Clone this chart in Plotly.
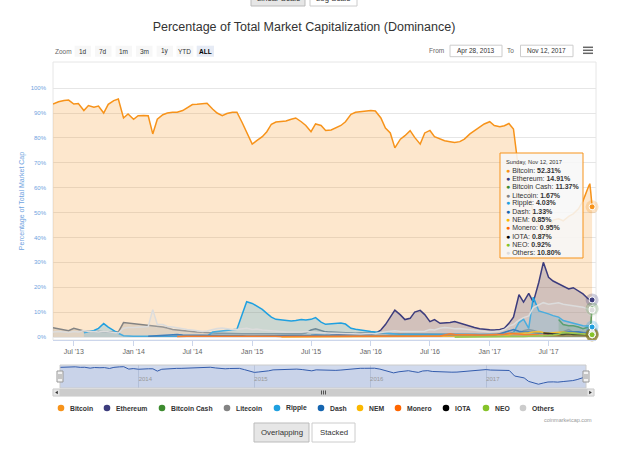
import datetime as dt
import plotly.graph_objects as go

N = None

# ---- x categories: semi-monthly sampling dates (Apr 28, 2013 .. Nov 12, 2017)
DATES = ["2013-04-28"]
for yr in range(2013, 2018):
    for mo in range(1, 13):
        for dy in (1, 15):
            s = f"{yr}-{mo:02d}-{dy:02d}"
            if "2013-05-15" <= s <= "2017-11-01":
                DATES.append(s)
DATES += ["2017-11-05", "2017-11-08", "2017-11-10", "2017-11-12"]

NAMES = ["Bitcoin", "Ethereum", "Bitcoin Cash", "Litecoin", "Ripple", "Dash",
         "NEM", "Monero", "IOTA", "NEO", "Others"]
COLORS = ["#f7931a", "#3c3c7d", "#3d8b2f", "#838383", "#1fa0e0", "#1565b0",
          "#fbb800", "#ff6600", "#000000", "#86c32a", "#dcdcdc"]

bitcoin = [
    93.6, 94.5, 95.0, 95.2, 93.6, 93.8, 91.0, 93.0, 92.3, 92.8, 90.0, 93.5, 95.0, 95.6, 88.0, 89.6,
    87.5, 88.9, 89.0, 88.9, 81.6, 87.5, 89.3, 90.0, 90.3, 90.3, 91.0, 92.0, 93.4, 93.5, 93.8, 93.9,
    91.6, 90.0, 88.9, 89.8, 90.3, 90.3, 86.2, 82.5,
    77.5, 78.9, 80.5, 82.5, 85.5, 86.4, 86.6, 86.8, 87.5, 88.0, 86.5, 85.0, 82.5, 85.6, 85.0, 83.0,
    83.2, 84.0, 85.0, 86.5, 89.5, 90.3, 90.5, 90.5,
    91.0, 90.8, 88.0, 84.0, 82.0, 76.0, 79.5, 80.9, 82.9, 80.2, 77.5, 82.0, 83.0, 80.5, 79.5, 78.9,
    78.5, 78.2, 78.5, 79.5, 81.6, 82.9, 84.5, 85.6,
    86.5, 85.0, 84.5, 84.9, 85.8, 83.6, 66.0, 63.0, 60.0, 49.0, 45.0, 40.0, 44.0, 47.0, 47.5, 46.7,
    48.5, 49.5, 51.5, 54.7, 60.5, 61.6, 58.0, 55.0, 52.31,
]
ethereum = [N] * 16 + [N] * 24 + [N] * 15 + [
    2.0, 1.3, 1.2, 1.0, 0.9, 1.0, 1.0, 1.0, 1.0,
    1.0, 1.5, 2.8, 5.0, 8.0, 10.8, 8.9, 7.0, 7.5, 10.0, 10.7, 9.0, 6.2, 7.0, 5.5, 5.5,
    5.8, 6.2, 5.5, 5.0, 4.1, 3.8, 3.3, 3.0,
    2.9, 2.8, 3.0, 3.5, 5.5, 8.0, 17.0, 14.0, 17.5, 14.0, 22.0, 30.0, 24.0, 22.5, 21.3, 20.5,
    19.3, 19.8, 18.5, 17.3, 15.2, 15.0, 14.6, 14.2, 14.91,
]
bitcoin_cash = [N] * (16 + 24 + 24 + 24 + 14) + [
    7.0, 5.0, 4.5, 4.5, 4.0, 3.3, 4.0, 4.5, 5.0, 9.0, 11.37,
]
litecoin = [
    3.7, 3.2, 2.8, 2.5, 3.5, 3.0, 2.4, 2.3, 2.2, 2.1, 2.1, 2.0, 1.8, 2.0, 5.8, 5.6,
    5.5, 5.3, 5.0, 4.8, 4.4, 4.2, 4.0, 3.6, 3.0, 2.8, 2.5, 2.4, 2.2, 2.0, 1.9, 1.7,
    1.6, 1.5, 1.5, 1.4, 1.4, 1.4, 1.3, 1.3,
    1.3, 1.2, 1.4, 1.4, 1.3, 1.3, 1.2, 1.2, 1.2, 1.2, 1.3, 1.6, 2.8, 3.3, 2.5, 2.0,
    2.0, 1.9, 1.8, 1.6, 1.4, 1.5, 1.6, 1.6,
    1.7, 1.7, 1.6, 1.5, 1.3, 1.2, 1.3, 1.3, 1.3, 1.4, 1.4, 1.3, 1.3, 1.3, 1.3, 1.2,
    1.2, 1.2, 1.1, 1.1, 1.1, 1.1, 1.0, 1.0,
    1.1, 1.2, 1.2, 1.2, 1.3, 1.5, 1.6, 2.5, 3.0, 2.6, 2.0, 1.5, 1.7, 1.6, 1.7, 2.1,
    3.0, 2.0, 1.8, 1.9, 1.8, 1.8, 1.8, 1.7, 1.67,
]
ripple = [N] * 6 + [
    1.7, 2.2, 2.6, 3.5, 5.4, 4.0, 2.5, 1.5, 0.5, 0.3,
    0.3, 0.3, 0.3, 0.3, 0.3, 0.3, 0.3, 0.3, 0.3, 0.3, 0.3, 0.3, 0.3, 0.3, 0.3, 0.3,
    2.0, 2.2, 2.5, 2.8, 3.0, 3.1, 9.0, 14.2,
    13.5, 12.5, 11.1, 9.5, 8.0, 7.1, 6.8, 6.5, 6.4, 6.6, 7.0, 6.8, 7.1, 7.8, 6.0, 5.1,
    5.3, 5.4, 5.6, 5.2, 3.5, 3.1, 2.7, 2.6,
    2.2, 2.0, 1.8, 1.4, 1.2, 1.0, 1.0, 1.1, 1.1, 1.0, 1.0, 0.9, 0.9, 0.9, 0.9, 0.8,
    0.8, 0.8, 0.8, 0.8, 0.8, 0.9, 0.9, 1.0,
    1.0, 1.0, 1.0, 1.0, 1.2, 1.8, 5.8, 7.2, 3.5, 16.0, 10.5, 10.0, 9.3, 8.6, 8.0, 6.6,
    6.0, 5.6, 5.0, 4.5, 4.4, 4.3, 4.2, 4.1, 4.03,
]
dash = [N] * 16 + [N] * 3 + [
    0.3, 0.4, 0.5, 0.6, 0.5, 0.9, 1.0, 0.8, 0.8, 0.7, 0.6, 0.5, 0.5, 0.5, 0.5, 0.5,
    0.6, 0.6, 0.6, 0.5, 0.4,
    0.4, 0.5, 0.6, 0.6, 0.6, 0.7, 0.7, 0.6, 0.6, 0.6, 0.6, 0.6, 0.7, 0.8, 0.7, 0.7,
    0.7, 0.6, 0.5, 0.4, 0.4, 0.4, 0.4, 0.4,
    0.6, 0.6, 0.6, 0.6, 0.6, 0.5, 0.5, 0.5, 0.5, 0.5, 0.5, 0.5, 0.5, 0.5, 0.5, 0.6,
    0.7, 0.7, 0.7, 0.7, 0.7, 0.8, 0.7, 0.6,
    0.6, 0.6, 1.3, 1.9, 2.5, 3.0, 2.3, 2.0, 2.0, 1.7, 1.5, 1.5, 1.5, 1.5, 1.5, 2.0,
    2.1, 2.2, 2.1, 1.7, 1.6, 1.5, 1.5, 1.4, 1.33,
]
nem = [N] * (16 + 24 + 6) + [
    0.1, 0.1, 0.1, 0.1, 0.1, 0.1, 0.1, 0.1, 0.1, 0.1, 0.1, 0.1, 0.1, 0.1, 0.1, 0.1, 0.1, 0.1,
    0.1, 0.1, 0.1, 0.1, 0.1, 0.1, 0.1, 0.1, 0.1, 0.2, 0.3, 0.3, 0.3, 0.3, 0.2, 0.2,
    0.2, 0.2, 0.2, 0.2, 0.2, 0.2, 0.2, 0.2,
    0.2, 0.2, 0.3, 0.4, 0.8, 1.5, 1.4, 1.4, 1.7, 2.0, 2.2, 1.8, 1.5, 1.7, 1.8, 2.0,
    1.7, 1.6, 1.4, 1.2, 1.0, 0.9, 0.9, 0.85, 0.85,
]
monero = [N] * (16 + 9) + [
    0.2, 0.4, 0.3, 0.3, 0.3, 0.3, 0.4, 0.6, 0.5, 0.4, 0.4, 0.4, 0.4, 0.3, 0.3,
    0.3, 0.3, 0.3, 0.3, 0.3, 0.3, 0.2, 0.2, 0.2, 0.2, 0.2, 0.2, 0.2, 0.2, 0.2, 0.2,
    0.2, 0.2, 0.2, 0.1, 0.1, 0.1, 0.1, 0.1,
    0.1, 0.1, 0.1, 0.2, 0.3, 0.2, 0.2, 0.2, 0.2, 0.2, 0.3, 0.3, 0.3, 0.3, 0.4, 0.8,
    1.3, 1.0, 0.9, 0.8, 0.8, 0.8, 0.8, 0.8,
    0.9, 1.0, 1.1, 1.1, 1.5, 1.5, 1.2, 1.0, 0.8, 0.9, 0.8, 0.7, 0.7, 0.7, 0.7, 1.0,
    1.0, 0.9, 0.9, 0.9, 0.9, 0.9, 0.9, 0.9, 0.95,
]
iota = [N] * (16 + 24 + 24 + 24 + 11) + [
    1.6, 1.3, 1.1, 1.0, 1.0, 1.3, 1.0, 0.9, 0.9, 0.9, 0.9, 0.9, 0.85, 0.87,
]
neo = [N] * (16 + 24 + 24 + 17) + [
    0.05, 0.04, 0.04, 0.03, 0.03, 0.03, 0.03,
    0.03, 0.03, 0.03, 0.05, 0.1, 0.1, 0.1, 0.2, 0.3, 0.3, 0.6, 0.4, 0.6, 0.8, 1.1, 1.8,
    1.6, 1.5, 1.3, 1.1, 1.0, 1.0, 0.9, 0.9, 0.92,
]
others = [
    2.0, 2.2, 2.0, 1.8, 2.2, 2.0, 2.6, 2.2, 2.2, 2.0, 2.3, 2.0, 1.8, 1.6, 3.5, 3.8,
    3.8, 4.0, 4.0, 4.2, 11.0, 5.0, 5.0, 4.2, 4.0, 3.6, 3.4, 3.0, 2.8, 2.4, 2.2, 2.4,
    3.0, 3.4, 3.6, 3.2, 3.0, 3.0, 3.2, 3.5,
    3.0, 3.2, 2.8, 2.6, 2.4, 2.3, 2.2, 2.0, 2.0, 1.9, 2.0, 2.2, 2.0, 1.8, 1.6, 1.5,
    1.5, 1.5, 1.4, 1.3, 1.2, 1.2, 1.2, 1.3,
    1.3, 1.4, 1.8, 2.0, 2.2, 2.5, 2.2, 2.2, 2.0, 2.2, 2.0, 2.3, 3.0, 2.8, 3.5, 3.8,
    3.6, 3.3, 3.4, 3.2, 3.0, 2.6, 2.3, 2.2,
    2.0, 2.2, 2.4, 3.0, 4.4, 5.0, 6.8, 7.8, 8.5, 11.8, 13.0, 13.8, 13.2, 13.5, 13.8, 13.2,
    12.9, 12.7, 12.5, 12.0, 11.1, 11.0, 10.8, 10.5, 10.80,
]

SERIES = [bitcoin, ethereum, bitcoin_cash, litecoin, ripple, dash, nem, monero, iota, neo, others]
for s in SERIES:
    assert len(s) == len(DATES), (len(s), len(DATES))

Y_TICKS = list(range(0, 101, 10))
Y_TICKTEXT = [f"{v}%" for v in Y_TICKS]

# ---------------------------------------------------------------- helpers
W, H = 640, 450
FONT = "Liberation Sans, Arial, sans-serif"
BLUE = "#6fa3e0"


def px(x):
    return x / W


def py(y):
    return 1 - y / H


def rgba(hexc, a):
    h = hexc.lstrip("#")
    r, g, b = int(h[0:2], 16), int(h[2:4], 16), int(h[4:6], 16)
    return f"rgba({r},{g},{b},{a})"


shapes = []
annots = []


def rect(x0, y0, x1, y1, fill, line="rgba(0,0,0,0)", lw=1, layer="above"):
    shapes.append(dict(type="rect", xref="paper", yref="paper", x0=px(x0), x1=px(x1),
                       y0=py(y1), y1=py(y0), fillcolor=fill,
                       line=dict(color=line, width=lw), layer=layer))


def hline(x0, x1, y, color, lw=1):
    shapes.append(dict(type="line", xref="paper", yref="paper", x0=px(x0), x1=px(x1),
                       y0=py(y), y1=py(y), line=dict(color=color, width=lw)))


def vline(x, y0, y1, color, lw=1):
    shapes.append(dict(type="line", xref="paper", yref="paper", x0=px(x), x1=px(x),
                       y0=py(y0), y1=py(y1), line=dict(color=color, width=lw)))


def text(x, y, t, size=7, color="#333333", xanchor="center", bold=False):
    if bold:
        t = f"<b>{t}</b>"
    annots.append(dict(xref="paper", yref="paper", x=px(x), y=py(y), text=t,
                       showarrow=False, xanchor=xanchor, yanchor="middle",
                       font=dict(family=FONT, size=size, color=color)))


# ---------------------------------------------------------------- traces
fig = go.Figure()
for name, col, vals in zip(NAMES, COLORS, SERIES):
    fig.add_trace(go.Scatter(
        x=DATES, y=vals, name=name, mode="lines",
        line=dict(color=col, width=1.5), fill="tozeroy", fillcolor=rgba(col, 0.22),
        hoverinfo="skip", showlegend=False))

# hover markers (halo + dot) on the last points
for name, col, vals in zip(NAMES, COLORS, SERIES):
    fig.add_trace(go.Scatter(
        x=[DATES[-1]], y=[vals[-1]], mode="markers", cliponaxis=False,
        marker=dict(size=13, color=rgba(col, 0.25), line=dict(width=0)),
        hoverinfo="skip", showlegend=False))
for name, col, vals in zip(NAMES, COLORS, SERIES):
    fig.add_trace(go.Scatter(
        x=[DATES[-1]], y=[vals[-1]], mode="markers", cliponaxis=False,
        marker=dict(size=6, color=col, line=dict(color="white", width=1)),
        hoverinfo="skip", showlegend=False))

# navigator series
fig.add_trace(go.Scatter(
    x=DATES, y=bitcoin, xaxis="x2", yaxis="y2", mode="lines",
    line=dict(color="#335cad", width=1), fill="tozeroy",
    fillcolor="rgba(51,92,173,0.05)", hoverinfo="skip", showlegend=False))

# ---------------------------------------------------------------- decorations
# plot border
rect(53, 62, 596, 340, "rgba(0,0,0,0)", line="#e6e6e6", lw=1, layer="below")

# navigator mask (full range selected) and outline
rect(60, 365, 586, 388, "rgba(102,133,194,0.3)", layer="below")
rect(60, 365, 586, 388, "rgba(0,0,0,0)", line="#cccccc", lw=1)
# navigator handles
for hx in (60, 586):
    rect(hx - 3, 371, hx + 3, 382, "#f2f2f2", line="#999999", lw=1)
    vline(hx - 1, 374, 379, "#999999", 1)
    vline(hx + 1, 374, 379, "#999999", 1)

# scrollbar
rect(53, 389, 594, 396, "#f2f2f2", line="#f2f2f2")
rect(60, 389, 587, 396, "#cccccc", line="#cccccc")
rect(53, 389, 60, 396, "#e6e6e6", line="#cccccc")
rect(587, 389, 594, 396, "#e6e6e6", line="#cccccc")
shapes.append(dict(type="path", xref="paper", yref="paper",
                   path=f"M{px(57.8)},{py(390.8)} L{px(55.2)},{py(392.5)} L{px(57.8)},{py(394.2)} Z",
                   fillcolor="#333333", line=dict(width=0)))
shapes.append(dict(type="path", xref="paper", yref="paper",
                   path=f"M{px(589.2)},{py(390.8)} L{px(591.8)},{py(392.5)} L{px(589.2)},{py(394.2)} Z",
                   fillcolor="#333333", line=dict(width=0)))
for gx in (321.5, 323.5, 325.5):
    vline(gx, 390.5, 394.5, "#333333", 0.8)

# range selector
text(53, 51.2, "Zoom", size=6.5, color="#666666", xanchor="left")
BTN = [("1d", 74.6, 91), ("7d", 95, 111.5), ("1m", 115.6, 132), ("3m", 136, 152.5),
       ("1y", 156.6, 173), ("YTD", 176.5, 193.4), ("ALL", 196.7, 214)]
for lab, x0, x1 in BTN:
    sel = lab == "ALL"
    rect(x0, 45.7, x1, 56.7, "#e6ebf5" if sel else "#f7f7f7")
    text((x0 + x1) / 2, 51.2, lab, size=6.5, color="#000000" if sel else "#333333", bold=sel)

d0 = dt.datetime.strptime(DATES[0], "%Y-%m-%d")
d1 = dt.datetime.strptime(DATES[-1], "%Y-%m-%d")
text(446, 51, "From", size=6.5, color="#666666", xanchor="right")
rect(450, 45.2, 502, 56.7, "#ffffff", line="#cccccc")
text(476, 51, d0.strftime("%b %d, %Y"), size=6.5)
text(516, 51, "To", size=6.5, color="#666666", xanchor="right")
rect(520.5, 45.2, 573, 56.7, "#ffffff", line="#cccccc")
text(546.7, 51, d1.strftime("%b %d, %Y"), size=6.5)
for hy in (47.3, 50.3, 53.3):
    hline(583, 593, hy, "#666666", 1.5)

# top (cut-off) scale buttons
rect(251, -14, 305, 6, "#e6e6e6", line="#bbbbbb")
rect(310, -14, 357, 6, "#ffffff", line="#cccccc")
text(278, -1.5, "Linear Scale", size=7.8)
text(333.5, -1.5, "Log Scale", size=7.8)

# bottom buttons
rect(254, 423, 309, 442, "#e6e6e6", line="#bbbbbb")
rect(312, 423, 355, 442, "#ffffff", line="#cccccc")
text(281.5, 432.5, "Overlapping", size=7.8)
text(333.5, 432.5, "Stacked", size=7.8)

# credit
text(594, 419.5, "coinmarketcap.com", size=5.5, color="#999999", xanchor="right")

# legend (custom, compact)
LEGEND_X = [61, 107, 162, 227, 277, 321, 360, 398, 446, 486, 523]
for lx, name, col in zip(LEGEND_X, NAMES, COLORS):
    shapes.append(dict(type="circle", xref="paper", yref="paper",
                       x0=px(lx - 3.3), x1=px(lx + 3.3), y0=py(408 + 3.3), y1=py(408 - 3.3),
                       fillcolor="#cccccc" if name == "Others" else col, line=dict(width=0)))
    text(lx + 6.5, 408.3, name, size=6.8, color="#333333", xanchor="left", bold=True)

# tooltip
rect(500, 153, 583, 258, "rgba(247,247,247,0.88)", line="#f7931a", lw=1)
text(504, 162.3, d1.strftime("%A, %b %d, %Y"), size=5.7, color="#333333", xanchor="left")
for i, (name, col, vals) in enumerate(zip(NAMES, COLORS, SERIES)):
    t = f"<span style='color:{col}'>●</span> {name}: <b>{vals[-1]:.2f}%</b>"
    text(503.5, 170.5 + 8.2 * i, t, size=7, color="#333333", xanchor="left")

# ---------------------------------------------------------------- layout
fig.update_layout(
    width=W, height=H, margin=dict(l=0, r=0, t=0, b=0),
    paper_bgcolor="white", plot_bgcolor="white", showlegend=False,
    title=dict(text="Percentage of Total Market Capitalization (Dominance)",
               x=px(304), xanchor="center", y=py(27), yanchor="middle", yref="container",
               font=dict(family=FONT, size=12.5, color="#333333")),
    xaxis=dict(domain=[px(53), px(596)], range=["2013-04-28", "2017-11-24"], type="date",
               tick0="2013-07-01", dtick="M6", tickformat="%b '%y",
               ticks="outside", ticklen=5, tickcolor="#ccd6eb",
               showline=True, linecolor="#ccd6eb", showgrid=False, zeroline=False,
               tickfont=dict(family=FONT, size=7, color="#666666"), anchor="y", fixedrange=True),
    yaxis=dict(domain=[py(340), py(62)], range=[-1.2, 110.5], tickvals=Y_TICKS,
               ticktext=Y_TICKTEXT, showgrid=True, gridcolor="#e6e6e6", gridwidth=1,
               zeroline=False, ticks="", ticklabelstandoff=6,
               tickfont=dict(family=FONT, size=6, color=BLUE),
               title=dict(text="Percentage of Total Market Cap", standoff=5,
                          font=dict(family=FONT, size=7, color=BLUE)),
               anchor="x", fixedrange=True),
    xaxis2=dict(domain=[px(60), px(586)], range=["2013-04-28", "2017-11-12"], type="date",
                anchor="y2", tick0="2014-01-01", dtick="M12", tickformat="%Y",
                ticklabelposition="inside right", ticks="", showgrid=True,
                gridcolor="#b9c4dc", showline=False, zeroline=False,
                tickfont=dict(family=FONT, size=6, color="#999999"), fixedrange=True),
    yaxis2=dict(domain=[py(388), py(365)], range=[28, 101], visible=False,
                anchor="x2", fixedrange=True),
    shapes=shapes, annotations=annots,
)

fig.write_html("out.html", config={"displayModeBar": False},
               post_script="document.body.style.margin='0';")
